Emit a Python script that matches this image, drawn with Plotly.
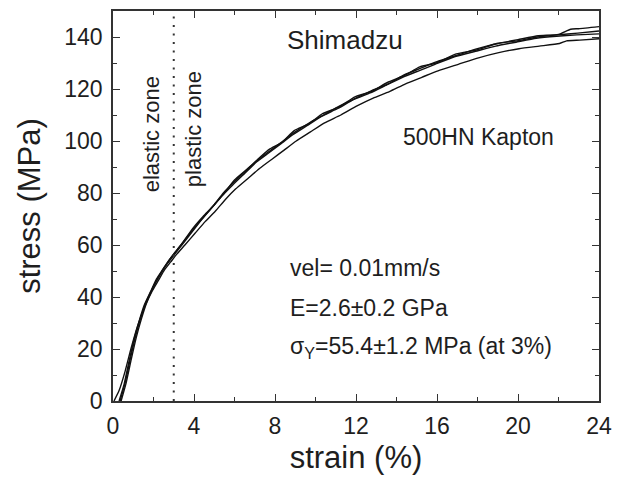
import plotly.graph_objects as go

# ---- data ----
strain_a = [0.35, 0.6, 0.85, 1.1, 1.35, 1.6, 1.9, 2.2, 2.5, 2.8, 3.1, 3.5, 4.0, 4.5, 5.0, 5.5,
            6.0, 6.6, 7.2, 7.8, 8.4, 9.0, 9.7, 10.4, 11.2, 12.0, 12.8, 13.6, 14.4, 15.2, 16.0,
            17.0, 18.0, 19.0, 20.0, 21.0, 22.0, 22.6, 23.0, 24.0]
stress_a = [0, 7, 16, 24.5, 31.5, 37.5, 42.5, 47, 51, 54.5, 57.5, 61.5, 66.5, 71, 75.5, 80,
            85, 89, 93, 96.5, 100, 103.5, 107, 110, 113.5, 116.5, 119.5, 122, 125.5, 128, 130.5,
            133, 135.5, 137.5, 139, 140.5, 141, 143, 143.2, 144]

strain_b = [0.3, 0.55, 0.8, 1.05, 1.3, 1.55, 1.85, 2.15, 2.45, 2.75, 3.05, 3.45, 3.95, 4.45, 4.95,
            5.45, 5.95, 6.55, 7.15, 7.75, 8.35, 8.95, 9.65, 10.35, 11.15, 11.95, 12.75, 13.55,
            14.35, 15.15, 15.95, 16.95, 17.95, 18.95, 19.95, 20.95, 21.95, 22.95, 24.0]
stress_b = [0, 6.5, 15.5, 24, 31, 37, 42, 47, 50.5, 54, 57, 61, 66.5, 71, 75,
            80, 84, 88.5, 93, 97, 99.5, 104, 106.5, 110.5, 113, 117, 119, 122.5, 125, 128.5,
            130, 133.5, 135, 137.5, 138.5, 140, 140.8, 141.5, 142.3]

strain_c = [0.05, 0.3, 0.6, 0.9, 1.2, 1.5, 1.8, 2.1, 2.4, 2.7, 3.0, 3.4, 3.9, 4.4, 4.9, 5.4,
            5.9, 6.5, 7.1, 7.7, 8.3, 8.9, 9.6, 10.3, 11.1, 11.9, 12.7, 13.5, 14.3, 15.1, 15.9,
            16.9, 17.9, 18.9, 19.9, 20.9, 21.9, 22.9, 24.0]
stress_c = [0, 4, 11.5, 20.5, 28.5, 35, 40.5, 45.5, 49.5, 53, 56, 60, 65, 70, 74.5, 79,
            83, 87.5, 92, 95.5, 99, 102.5, 106, 109.5, 112.5, 116, 118.5, 121.5, 124.5, 127, 129.5,
            132.5, 134.5, 136.5, 138, 139.5, 140.3, 140.8, 141.2]

strain_d = [0.4, 0.65, 0.9, 1.15, 1.4, 1.65, 1.95, 2.25, 2.55, 2.85, 3.15, 3.55, 4.05, 4.55,
            5.05, 5.55, 6.05, 6.65, 7.25, 7.85, 8.45, 9.05, 9.75, 10.45, 11.25, 12.05, 12.85,
            13.65, 14.45, 15.25, 16.05, 17.05, 18.05, 19.05, 20.05, 21.05, 22.05, 22.4, 23.05, 24.0]
stress_d = [0, 7, 16, 24.5, 31.5, 37.5, 42.5, 46.5, 50.5, 53.5, 56.5, 60, 64.5, 69, 73, 77.5,
            81.5, 85.5, 89.5, 93, 96.5, 100, 103.5, 107, 110, 113.5, 116.5, 119, 122, 124.5, 127,
            129.5, 132, 134, 135.5, 136.5, 137.5, 138.5, 138.8, 139.3]

yield_strain = 3.0

x_ticks = [0, 4, 8, 12, 16, 20, 24]
y_ticks = [0, 20, 40, 60, 80, 100, 120, 140]

FONT = "Liberation Sans, Arial, sans-serif"
INK = "#1e1e1e"

fig = go.Figure()
for xs, ys in [(strain_a, stress_a), (strain_b, stress_b), (strain_c, stress_c), (strain_d, stress_d)]:
    fig.add_trace(go.Scatter(x=xs, y=ys, mode="lines",
                             line=dict(color="#111111", width=1.4, shape="spline", smoothing=0.5),
                             showlegend=False, hoverinfo="skip"))

# dotted separator between elastic and plastic zones
fig.add_trace(go.Scatter(x=[yield_strain, yield_strain], y=[0, 150], mode="lines",
                         line=dict(color="#333333", width=2, dash="2px,6.5px"),
                         showlegend=False, hoverinfo="skip"))

axis_common = dict(
    showline=True, linecolor="#333333", linewidth=1.5, mirror="allticks",
    ticks="inside", ticklen=7, tickwidth=1.3, tickcolor="#333333",
    showgrid=False, zeroline=False,
    tickfont=dict(family=FONT, size=23, color=INK),
)

fig.update_xaxes(range=[0, 24], tickvals=x_ticks, ticktext=[str(v) for v in x_ticks],
                 minor=dict(ticks="inside", ticklen=4, tickwidth=1.2, tickcolor="#333333", dtick=2, showgrid=False),
                 title=dict(text="strain (%)", font=dict(family=FONT, size=31, color=INK), standoff=8),
                 ticklabelstandoff=4,
                 **axis_common)
fig.update_yaxes(range=[0, 150], tickvals=y_ticks, ticktext=[str(v) for v in y_ticks],
                 minor=dict(ticks="inside", ticklen=4, tickwidth=1.2, tickcolor="#333333", dtick=10, showgrid=False),
                 title=dict(text="stress (MPa)", font=dict(family=FONT, size=31, color=INK), standoff=14),
                 ticklabelstandoff=4,
                 **axis_common)

ann_font = dict(family=FONT, size=23, color=INK)
annotations = [
    dict(x=11.47, y=138.8, text="Shimadzu", xanchor="center", yanchor="middle",
         font=dict(family=FONT, size=26, color=INK)),
    dict(x=18.07, y=101.5, text="500HN Kapton", xanchor="center", yanchor="middle", font=ann_font),
    dict(x=8.64, y=51.0, text="vel= 0.01mm/s", xanchor="left", yanchor="middle", font=ann_font),
    dict(x=8.64, y=35.8, text="E=2.6\u00b10.2 GPa", xanchor="left", yanchor="middle", font=ann_font),
    dict(x=8.64, y=20.5, text="\u03c3<sub>Y</sub>=55.4\u00b11.2 MPa (at 3%)", xanchor="left",
         yanchor="middle", font=ann_font),
    dict(x=1.94, y=102.7, text="elastic zone", textangle=-90, xanchor="center", yanchor="middle",
         font=dict(family=FONT, size=22, color=INK)),
    dict(x=3.96, y=104.6, text="plastic zone", textangle=-90, xanchor="center", yanchor="middle",
         font=dict(family=FONT, size=22, color=INK)),
]
for a in annotations:
    a.update(xref="x", yref="y", showarrow=False)
fig.update_layout(annotations=annotations)

fig.update_layout(
    width=621, height=479,
    margin=dict(l=113, r=22, t=9, b=78),
    paper_bgcolor="white", plot_bgcolor="white",
    font=dict(family=FONT, color=INK),
)

fig.write_html("out.html")
